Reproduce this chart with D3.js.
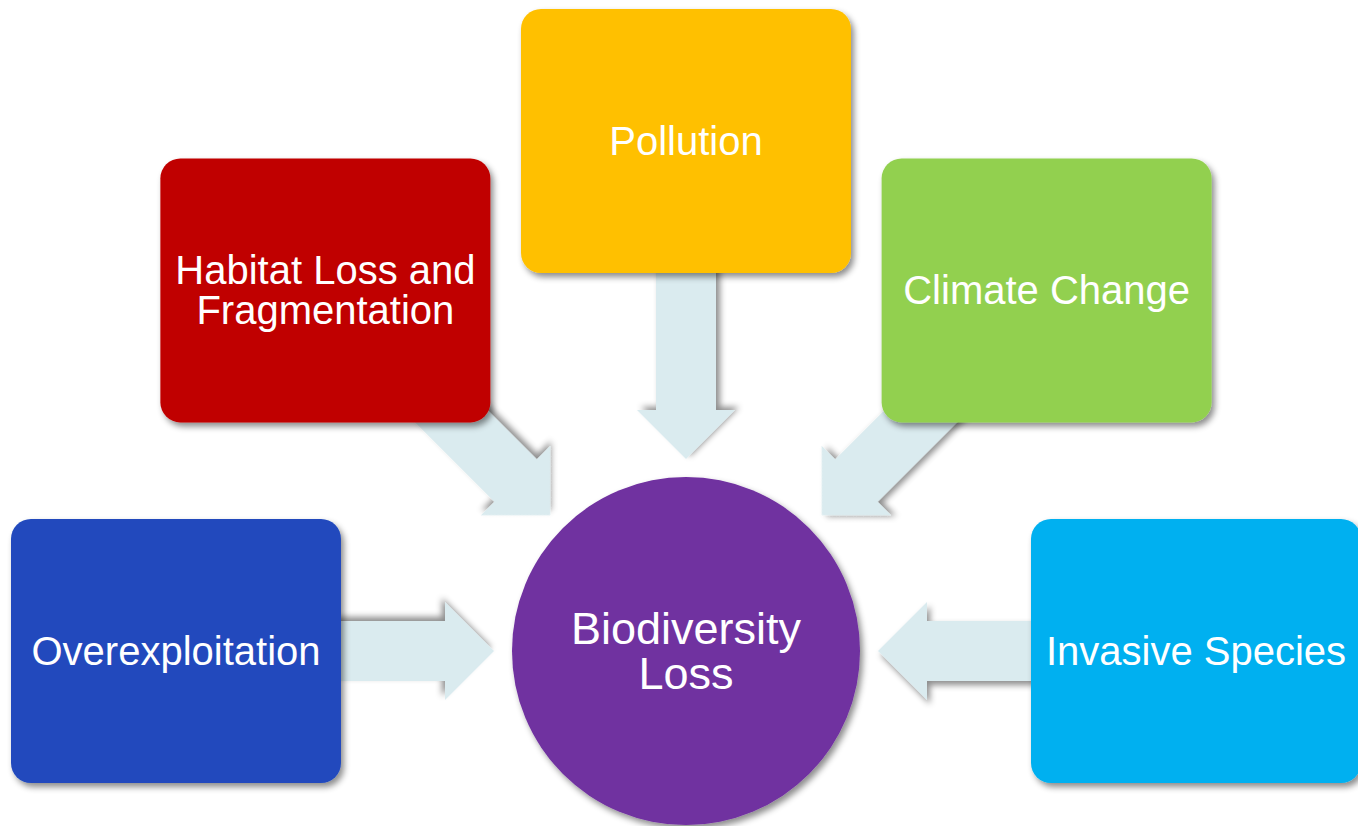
<!DOCTYPE html>
<html>
<head lang="en">
    <meta charset="UTF-8">
    <script type="text/javascript" src="https://cdn.jsdelivr.net/npm/d3@7"></script>
    <title>Biodiversity Loss</title>
</head>
<body style="margin:0;background:#fff;">
<script type="text/javascript">
    // the causes around the circle, and where each one sits (degrees, 0 = right)
    var causes = [["Overexploitation"], ["Habitat Loss and", "Fragmentation"], ["Pollution"], ["Climate Change"], ["Invasive Species"]];
    var causeColors = ["#204ABD", "#C00000", "#FFC000", "#92D050", "#00B0F0"];
    var causeAngles = [180, 225, 270, 315, 0];
    var centerLabel = ["Biodiversity", "Loss"];
    var centerColor = "#7030A0";
    var arrowColor = "#DAEBEF";

    var w = 1358, h = 826;
    var cx = 686, cy = 651;
    var R = 174;          // circle radius
    var boxDist = 510;    // circle centre -> box centre
    var boxW = 330, boxH = 264;

    var svg = d3.select("body").append("svg")
            .attr("width", w)
            .attr("height", h);

    var defs = svg.append("defs");
    defs.append("filter").attr("id", "shadow")
            .attr("x", "-20%").attr("y", "-20%").attr("width", "140%").attr("height", "140%")
            .append("feDropShadow")
            .attr("dx", 3).attr("dy", 4)
            .attr("stdDeviation", 3)
            .attr("flood-color", "#000")
            .attr("flood-opacity", 0.45);

    var rad = function (a) { return a * Math.PI / 180; };

    // arrows: tip at 192 from centre, head 49 long, head half width 49, shaft half width 30
    var tipR = 192, headL = 49, headW = 49, shaftW = 30, tailR = 390;
    var arrowShape = [
        [tipR, 0],
        [tipR + headL, -headW],
        [tipR + headL, -shaftW],
        [tailR, -shaftW],
        [tailR, shaftW],
        [tipR + headL, shaftW],
        [tipR + headL, headW]
    ];
    var line = d3.line();

    svg.append("g").selectAll("path")
            .data(causeAngles)
            .enter().append("path")
            .attr("d", line(arrowShape) + "Z")
            .attr("transform", function (a) { return "translate(" + cx + "," + cy + ") rotate(" + a + ")"; })
            .attr("fill", arrowColor)
            .attr("filter", "url(#shadow)");

    // boxes
    var boxes = svg.append("g").selectAll("g")
            .data(causes)
            .enter().append("g")
            .attr("transform", function (d, i) {
                var a = rad(causeAngles[i]);
                return "translate(" + (cx + boxDist * Math.cos(a)) + "," + (cy + boxDist * Math.sin(a)) + ")";
            });

    boxes.append("rect")
            .attr("x", -boxW / 2).attr("y", -boxH / 2)
            .attr("width", boxW).attr("height", boxH)
            .attr("rx", 20).attr("ry", 20)
            .attr("fill", function (d, i) { return causeColors[i]; })
            .attr("filter", "url(#shadow)");

    var fontSize = 40, lineH = 40;
    boxes.append("text")
            .attr("text-anchor", "middle")
            .attr("fill", "#fff")
            .style("font-family", "'Liberation Sans', Arial, sans-serif")
            .style("font-size", fontSize + "px")
            .selectAll("tspan")
            .data(function (d) { return d.map(function (t, k) { return {t: t, k: k, n: d.length}; }); })
            .enter().append("tspan")
            .attr("x", 0)
            .attr("y", function (d) { return -(d.n - 1) * lineH / 2 + d.k * lineH + fontSize * 0.35; })
            .text(function (d) { return d.t; });

    // centre circle
    svg.append("circle")
            .attr("cx", cx).attr("cy", cy).attr("r", R)
            .attr("fill", centerColor)
            .attr("filter", "url(#shadow)");

    var cSize = 45, cLine = 45;
    svg.append("text")
            .attr("text-anchor", "middle")
            .attr("fill", "#fff")
            .style("font-family", "'Liberation Sans', Arial, sans-serif")
            .style("font-size", cSize + "px")
            .selectAll("tspan")
            .data(centerLabel)
            .enter().append("tspan")
            .attr("x", cx)
            .attr("y", function (d, k) { return cy - (centerLabel.length - 1) * cLine / 2 + k * cLine + cSize * 0.35; })
            .text(function (d) { return d; });
</script>
</body>
</html>
